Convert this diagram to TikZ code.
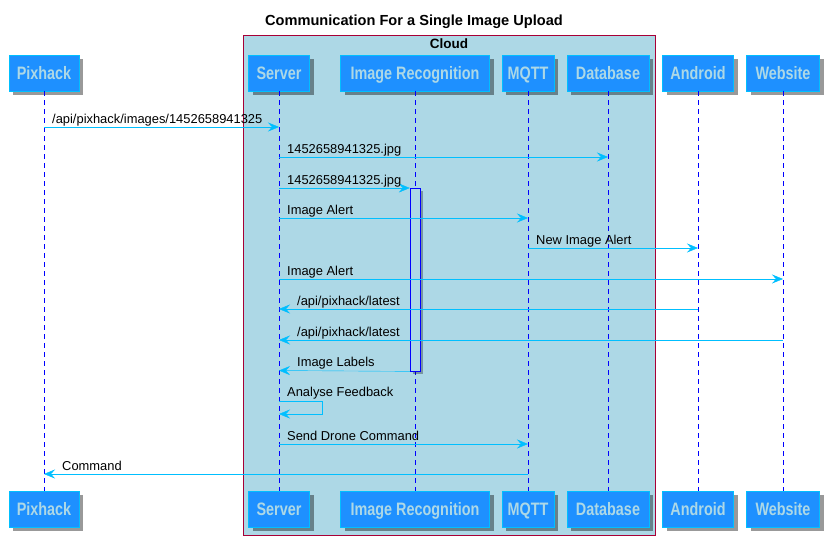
\documentclass[tikz,border=0pt]{standalone}
\usepackage{fontspec}
\setmainfont{Liberation Sans}
\newfontfamily\partfont{Liberation Sans}[FakeStretch=0.8]
\usepackage{tikz}
\usetikzlibrary{arrows.meta, shadows, calc, positioning}
\definecolor{partblue}{HTML}{1E90FF}
\definecolor{partedge}{HTML}{00BFFF}
\definecolor{msgblue}{HTML}{00BFFF}
\definecolor{cloudfill}{HTML}{ADD8E6}
\definecolor{cloudedge}{HTML}{A80036}
\tikzset{
    partnode/.style = {draw=partedge, fill=partblue, rectangle, minimum height=36pt, inner sep=0pt,
      text=cloudfill, text height=13pt, text depth=0pt, font=\partfont\bfseries\fontsize{18}{18}\selectfont,
      drop shadow={shadow xshift=4pt, shadow yshift=-4pt, fill=black, opacity=0.4}},
    actbar/.style = {draw=blue, fill=cloudfill, rectangle, inner sep=0pt, minimum width=10pt,
      drop shadow={shadow xshift=3pt, shadow yshift=-3pt, fill=black, opacity=0.3}},
    lifeline/.style = {blue, dash pattern=on 5pt off 4pt},
    msg/.style = {msgblue, -{Stealth[length=11pt, width=9pt, inset=4pt]}},
    msgtext/.style = {text=black, inner sep=0pt, anchor=base west, yshift=4pt,
      font=\fontsize{12.9}{13}\selectfont},
    rightlabel/.style = {msgtext, xshift=8pt},
    leftlabel/.style = {msgtext, xshift=18pt},
    headtext/.style = {text=black, inner sep=0pt, anchor=base, font=\bfseries\fontsize{13.5}{14}\selectfont}
}
\begin{document}
\begin{tikzpicture}[x=1pt, y=-1pt]
    \useasboundingbox (0,0) rectangle (828,546);

    \node [headtext, font=\bfseries\fontsize{14.6}{15}\selectfont] (title) at (414,25) {Communication For a Single Image Upload};

    % cloud group
    \draw [cloudedge, fill=cloudfill] (243,35) rectangle (655,535);
    \node [headtext] (cloud) at (449,48.5) {Cloud};

    % participants, top and bottom
    \node [partnode, minimum width=70pt] (pixT) at (44,73) {Pixhack};
    \node [partnode, minimum width=61pt] (srvT) at (279,73) {Server};
    \node [partnode, minimum width=149pt] (recT) at (415,73) {Image Recognition};
    \node [partnode, minimum width=52pt] (mqttT) at (528,73) {MQTT};
    \node [partnode, minimum width=82pt] (dbT) at (608,73) {Database};
    \node [partnode, minimum width=71pt] (andT) at (698,73) {Android};
    \node [partnode, minimum width=73pt] (webT) at (783,73) {Website};

    \node [partnode, minimum width=70pt] (pixB) at (44,509) {Pixhack};
    \node [partnode, minimum width=61pt] (srvB) at (279,509) {Server};
    \node [partnode, minimum width=149pt] (recB) at (415,509) {Image Recognition};
    \node [partnode, minimum width=52pt] (mqttB) at (528,509) {MQTT};
    \node [partnode, minimum width=82pt] (dbB) at (608,509) {Database};
    \node [partnode, minimum width=71pt] (andB) at (698,509) {Android};
    \node [partnode, minimum width=73pt] (webB) at (783,509) {Website};

    % lifelines
    \draw [lifeline] (pixT.south) -- (pixB.north);
    \draw [lifeline] (srvT.south) -- (srvB.north);
    \draw [lifeline] (recT.south) -- (recB.north);
    \draw [lifeline] (mqttT.south) -- (mqttB.north);
    \draw [lifeline] (dbT.south) -- (dbB.north);
    \draw [lifeline] (andT.south) -- (andB.north);
    \draw [lifeline] (webT.south) -- (webB.north);

    % activation of image recognition
    \node [actbar, minimum height=183pt, anchor=north] (act) at (recT |- 0,188) {};

    % messages
    \draw [msg] (pixT |- 0,127) node [rightlabel] {/api/pixhack/images/1452658941325} -- (srvT |- 0,127);
    \draw [msg] (srvT |- 0,157) node [rightlabel] {1452658941325.jpg} -- (dbT |- 0,157);
    \draw [msg] (srvT |- 0,188) node [rightlabel] {1452658941325.jpg} -- (act.north west);
    \draw [msg] (srvT |- 0,218) node [rightlabel] {Image Alert} -- (mqttT |- 0,218);
    \draw [msg] (mqttT |- 0,248) node [rightlabel] {New Image Alert} -- (andT |- 0,248);
    \draw [msg] (srvT |- 0,279) node [rightlabel] {Image Alert} -- (webT |- 0,279);
    \draw [msg] (andT |- 0,309) -- (srvT |- 0,309) node [leftlabel] {/api/pixhack/latest};
    \draw [msg] (webT |- 0,340) -- (srvT |- 0,340) node [leftlabel] {/api/pixhack/latest};
    \draw [msg] (act.south west) -- (srvT |- 0,370.5) node [leftlabel] {Image Labels};
    \draw [msg] (srvT |- 0,401) node [rightlabel, yshift=1pt] {Analyse Feedback} -- ++(43,0) |- (srvT |- 0,414);
    \draw [msg] (srvT |- 0,444) node [rightlabel] {Send Drone Command} -- (mqttT |- 0,444);
    \draw [msg] (mqttT |- 0,474) -- (pixT |- 0,474) node [leftlabel] {Command};
\end{tikzpicture}
\end{document}
